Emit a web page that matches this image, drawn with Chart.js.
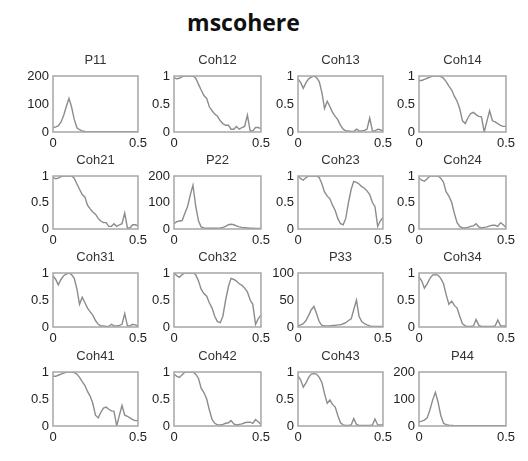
<!DOCTYPE html>
<html>
<head>
<meta charset="utf-8">
<script src="https://cdn.jsdelivr.net/npm/chart.js@4.4.1/dist/chart.umd.min.js"></script>
<style>
  body { margin: 0; background: #fff; }
  #wrap { position: relative; width: 528px; height: 461px; overflow: hidden; }
  #mainTitle { position: absolute; left: 0; top: 6px; width: 487px; text-align: center;
    font: 700 23px "Open Sans", sans-serif; color: #111; }
  canvas { position: absolute; }
</style>
</head>
<body>
<div id="wrap"><div id="mainTitle">mscohere</div></div>
<script>
// normalized frequency (cycles/sample), 33 bins
const freq = [0, 0.016, 0.031, 0.047, 0.063, 0.078, 0.094, 0.109, 0.125, 0.141, 0.156,
  0.172, 0.188, 0.203, 0.219, 0.234, 0.25, 0.266, 0.281, 0.297, 0.313, 0.328, 0.344,
  0.359, 0.375, 0.391, 0.406, 0.422, 0.438, 0.453, 0.469, 0.484, 0.5];

// auto spectra
const p11 = [15, 18, 22, 35, 60, 90, 120, 90, 45, 15, 8, 4, 2, 1, 1, 1, 1, 1, 1, 1, 1, 1, 1, 1, 1, 1, 1, 1, 1, 1, 1, 1, 1];
const p22 = [20, 28, 30, 32, 60, 85, 130, 165, 85, 30, 8, 4, 3, 3, 3, 3, 3, 4, 6, 10, 16, 18, 16, 12, 8, 6, 5, 4, 3, 3, 2, 2, 2];
const p33 = [2, 4, 6, 12, 22, 32, 38, 25, 10, 3, 2, 2, 2, 3, 3, 4, 4, 6, 8, 12, 15, 32, 50, 20, 10, 6, 4, 2, 1, 1, 1, 1, 1];
const p44 = [15, 18, 22, 30, 60, 95, 125, 90, 40, 10, 5, 3, 2, 1, 1, 1, 1, 1, 1, 1, 1, 1, 1, 1, 1, 1, 1, 1, 1, 1, 1, 1, 1];

// magnitude-squared coherence (symmetric pairs)
const coh12 = [0.97, 0.95, 0.96, 0.99, 1.0, 1.0, 1.0, 1.0, 0.96, 0.85, 0.75, 0.65, 0.6, 0.45, 0.38, 0.32, 0.28, 0.2, 0.15, 0.12, 0.12, 0.05, 0.05, 0.1, 0.05, 0.08, 0.1, 0.3, 0.02, 0.02, 0.08, 0.08, 0.06];
const coh13 = [0.95, 0.88, 0.78, 0.88, 0.95, 0.98, 1.0, 0.97, 0.9, 0.7, 0.42, 0.55, 0.45, 0.35, 0.28, 0.22, 0.12, 0.05, 0.02, 0.02, 0.01, 0.01, 0.05, 0.02, 0.02, 0.03, 0.05, 0.25, 0.02, 0.02, 0.05, 0.04, 0.02];
const coh14 = [0.92, 0.92, 0.94, 0.96, 0.98, 1.0, 1.0, 1.0, 0.99, 0.96, 0.9, 0.82, 0.75, 0.64, 0.55, 0.42, 0.2, 0.15, 0.25, 0.33, 0.35, 0.31, 0.28, 0.27, 0.0, 0.2, 0.38, 0.2, 0.18, 0.15, 0.12, 0.1, 0.1];
const coh23 = [1.0, 0.95, 0.92, 0.97, 1.0, 1.0, 1.0, 1.0, 0.97, 0.85, 0.7, 0.62, 0.57, 0.45, 0.35, 0.2, 0.1, 0.08, 0.2, 0.5, 0.75, 0.9, 0.88, 0.85, 0.8, 0.77, 0.72, 0.65, 0.5, 0.42, 0.05, 0.15, 0.22];
const coh24 = [0.96, 0.92, 0.9, 0.95, 1.0, 1.0, 1.0, 1.0, 0.96, 0.88, 0.7, 0.62, 0.5, 0.3, 0.12, 0.05, 0.02, 0.02, 0.03, 0.05, 0.06, 0.1, 0.04, 0.02, 0.03, 0.04, 0.06, 0.07, 0.07, 0.05, 0.12, 0.08, 0.03];
const coh34 = [0.93, 0.85, 0.72, 0.8, 0.9, 0.96, 0.97, 0.96, 0.9, 0.8, 0.6, 0.42, 0.48, 0.4, 0.35, 0.2, 0.06, 0.02, 0.01, 0.01, 0.02, 0.14, 0.03, 0.01, 0.01, 0.01, 0.01, 0.01, 0.02, 0.13, 0.02, 0.02, 0.02];

// tick labels
const xTicks = [0, 0.5];
const cohTicks = [0, 0.5, 1];
const psdTicks = [0, 100, 200];
const p33Ticks = [0, 50, 100];

const panels = [
  [['P11', p11, psdTicks], ['Coh12', coh12, cohTicks], ['Coh13', coh13, cohTicks], ['Coh14', coh14, cohTicks]],
  [['Coh21', coh12, cohTicks], ['P22', p22, psdTicks], ['Coh23', coh23, cohTicks], ['Coh24', coh24, cohTicks]],
  [['Coh31', coh13, cohTicks], ['Coh32', coh23, cohTicks], ['P33', p33, p33Ticks], ['Coh34', coh34, cohTicks]],
  [['Coh41', coh14, cohTicks], ['Coh42', coh24, cohTicks], ['Coh43', coh34, cohTicks], ['P44', p44, psdTicks]]
];

// layout of the plot boxes (px)
const colX = [53, 174, 298, 419];
const colW = [85, 87, 85, 87];
const rowY = [76, 176, 273, 372];
const rowH = [56, 53, 54, 54];
const YW = 36, RP = 14, XH = 22, TITLE_H = 22;

const FONT = { family: '"Liberation Sans", Arial, sans-serif', size: 13, weight: 'normal', lineHeight: 1 };

const boxPlugin = {
  id: 'box',
  afterDatasetsDraw(chart) {
    const a = chart.chartArea;
    const ctx = chart.ctx;
    ctx.save();
    ctx.strokeStyle = '#a6a6a6';
    ctx.lineWidth = 1.5;
    ctx.strokeRect(a.left, a.top, a.right - a.left, a.bottom - a.top);
    ctx.restore();
  }
};

const wrap = document.getElementById('wrap');

panels.forEach((row, r) => {
  row.forEach(([name, vals, yt], c) => {
    const canvas = document.createElement('canvas');
    const w = YW + colW[c] + RP;
    const h = TITLE_H + rowH[r] + XH;
    canvas.width = w;
    canvas.height = h;
    canvas.style.width = w + 'px';
    canvas.style.height = h + 'px';
    canvas.style.left = (colX[c] - YW) + 'px';
    canvas.style.top = (rowY[r] - TITLE_H) + 'px';
    wrap.appendChild(canvas);

    new Chart(canvas, {
      type: 'line',
      data: {
        datasets: [{
          data: freq.map((f, k) => ({ x: f, y: vals[k] })),
          borderColor: '#8c8c8c',
          borderWidth: 1.4,
          pointRadius: 0,
          tension: 0
        }]
      },
      options: {
        responsive: false,
        animation: false,
        events: [],
        layout: { padding: { left: 0, right: RP, top: 0, bottom: 0 } },
        plugins: {
          legend: { display: false },
          tooltip: { enabled: false },
          title: {
            display: true, text: name, fullSize: false, color: '#333',
            font: FONT, padding: { top: 0, bottom: 9 }
          }
        },
        scales: {
          x: {
            type: 'linear', min: 0, max: 0.5,
            afterBuildTicks: s => { s.ticks = xTicks.map(v => ({ value: v })); },
            afterFit: s => { s.height = XH; },
            grid: { display: false, drawTicks: false },
            border: { display: false },
            ticks: { padding: 5, color: '#222', font: FONT, autoSkip: false, maxRotation: 0,
              callback: v => String(v) }
          },
          y: {
            type: 'linear', min: yt[0], max: yt[yt.length - 1],
            afterBuildTicks: s => { s.ticks = yt.map(v => ({ value: v })); },
            afterFit: s => { s.width = YW; },
            grid: { display: false, drawTicks: false },
            border: { display: false },
            ticks: { padding: 4, color: '#222', font: FONT, autoSkip: false,
              callback: v => String(v) }
          }
        }
      },
      plugins: [boxPlugin]
    });
  });
});
</script>
</body>
</html>
